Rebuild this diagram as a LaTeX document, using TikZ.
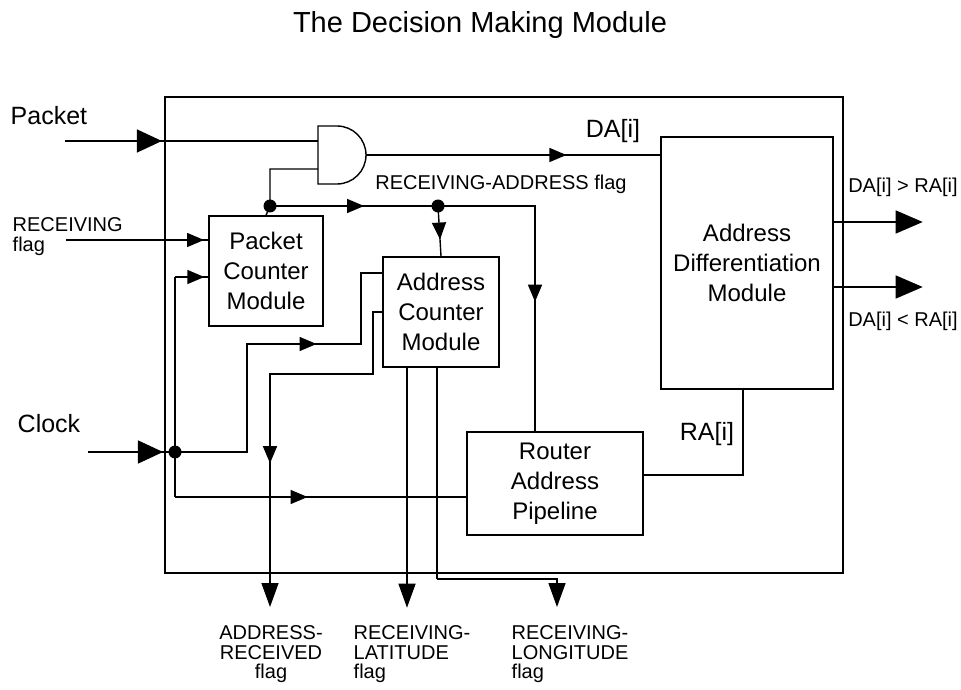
\documentclass[tikz,border=0pt]{standalone}
\usepackage{fontspec}
\setmainfont{Liberation Sans}
\usetikzlibrary{arrows.meta,decorations.markings}

\tikzset{
  module/.style={draw, inner sep=0pt, align=center, font=\fontsize{12}{15}\selectfont},
  lbl/.style={inner sep=0pt, font=\fontsize{12.5}{15}\selectfont},
  flaglbl/.style={inner sep=0pt, font=\fontsize{10}{9.7}\selectfont},
  junction/.style={circle, fill, inner sep=0pt, minimum size=6.5pt},
  midtip/.style={postaction={decorate}, decoration={markings,
      mark=at position #1 with {\arrow{Triangle[length=8.5pt,width=7pt]}}}},
  bigtip/.style={postaction={decorate}, decoration={markings,
      mark=at position #1 with {\arrow{Triangle[length=12.5pt,width=11.5pt]}}}},
  outtip/.style={-{Triangle[length=13.5pt,width=11.5pt]}},
  flagtip/.style={-{Triangle[length=12pt,width=8.5pt]}},
}

\begin{document}
\begin{tikzpicture}[x=0.5pt,y=-0.5pt,line width=0.7pt]
  \useasboundingbox (0,0) rectangle (961,689);
  \node[font=\fontsize{14.5}{18}\selectfont] (title) at (480,25) {The Decision Making Module};
  \draw (165,97) rectangle (843,573);

  % modules
  \node[module, minimum width=57pt, minimum height=55pt] (pcm) at (266,271) {Packet\\Counter\\Module};
  \node[module, minimum width=58pt, minimum height=55pt] (acm) at (441,312) {Address\\Counter\\Module};
  \node[module, minimum width=86pt, minimum height=126pt] (adm) at (747,263) {Address\\Differentiation\\Module};
  \node[module, minimum width=88pt, minimum height=51.5pt] (rap) at (555,483.5) {Router\\Address\\Pipeline};

  % and gate
  \coordinate (gin1) at (318,141);
  \coordinate (gin2) at (318,169);
  \coordinate (gout) at (366,155);
  \draw (318,126) -- (337,126) arc[start angle=-90, end angle=90, radius=29] -- (318,184) -- cycle;

  % packet in
  \node[lbl, anchor=west] (pktlbl) at (10,116) {Packet};
  \coordinate (pktin) at (65,141);
  \draw[bigtip=0.383] (pktin) -- (gin1);

  % gate out
  \draw[midtip=0.681] (gout) -- (gout -| adm.west);
  \node[lbl] (dalbl) at (613,131) {DA[i]};

  % receiving-address flag
  \node[junction] (dot1) at (270,206) {};
  \node[junction] (dot2) at (438,206) {};
  \draw (gin2) -| (dot1.center) -- (pcm.north);
  \draw[midtip=0.56] (dot1.center) -- (dot2.center);
  \draw[midtip=0.667] (dot2.center) -- (acm.north);
  \draw[midtip=0.598] (dot2.center) -- (535,206) -- ([xshift=-10pt]rap.north);
  \node[flaglbl] (rxalbl) at (501,184) {RECEIVING-ADDRESS flag};

  % receiving flag
  \node[flaglbl, anchor=north west, align=left] (rflbl) at (12,217) {RECEIVING\\flag};
  \coordinate (rfin) at (66,240);
  \draw[midtip=0.97] (rfin) -- (rfin -| pcm.west);

  % clock
  \node[lbl, anchor=west] (clklbl) at (17,424) {Clock};
  \coordinate (clkin) at (88,452);
  \node[junction] (dot3) at (175,452) {};
  \coordinate (clkup) at (175,277);
  \coordinate (clkdn) at (175,497);
  \draw[bigtip=0.862] (clkin) -- (dot3.center);
  \draw (clkup) -- (clkdn);
  \draw[midtip=0.88] (clkup) -- (clkup -| pcm.west);
  \draw[midtip=0.455] (clkdn) -- (clkdn -| rap.west);
  \draw[midtip=0.646] (dot3.center) -- (247,452) -- (247,344) -- (361,344) -- (361,273) -- ([yshift=19.5pt]acm.west);

  % flags out
  \draw[midtip=0.647, flagtip] (acm.west) -- (373,312) -- (373,374) -- (270,374) -- (270,607);
  \draw[flagtip] ([xshift=-17pt]acm.south) -- ++(0,240);
  \coordinate (lonbend) at (437,579);
  \draw ([xshift=-2pt]acm.south) -- (lonbend);
  \draw[flagtip] (lonbend) -- (557,579) -- ++(0,28);
  \node[flaglbl, anchor=north, align=center] (arflag) at (271,625) {ADDRESS-\\RECEIVED\\flag};
  \node[flaglbl, anchor=north west, align=left] (rlatflag) at (353,625) {RECEIVING-\\LATITUDE\\flag};
  \node[flaglbl, anchor=north west, align=left] (rlonflag) at (511,625) {RECEIVING-\\LONGITUDE\\flag};

  % router address
  \draw ([yshift=4.25pt]rap.east) -| ([xshift=-2pt]adm.south);
  \node[lbl] (ralbl) at (707,434) {RA[i]};

  % compare outputs
  \draw[outtip] ([yshift=20.5pt]adm.east) -- ++(89,0);
  \draw[outtip] ([yshift=-12pt]adm.east) -- ++(89,0);
  \node[flaglbl] (gtlbl) at (903,187) {DA[i] > RA[i]};
  \node[flaglbl] (ltlbl) at (903,321) {DA[i] < RA[i]};
\end{tikzpicture}
\end{document}
